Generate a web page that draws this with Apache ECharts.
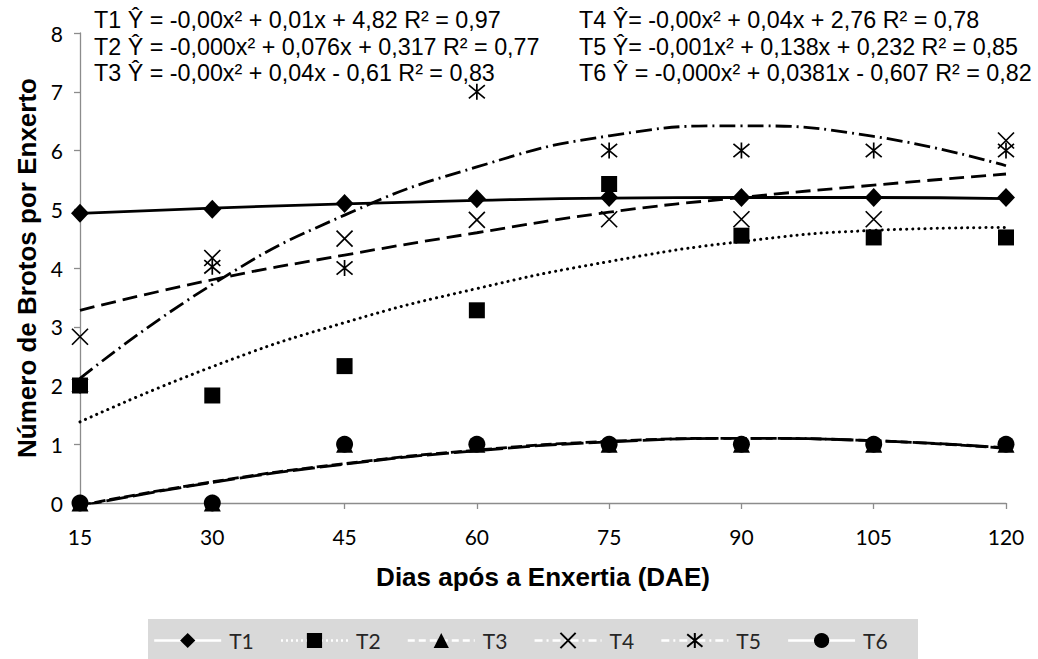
<!DOCTYPE html>
<html><head><meta charset="utf-8">
<script src="https://cdn.jsdelivr.net/npm/echarts@6/dist/echarts.min.js"></script>
<style>html,body{margin:0;padding:0;background:#fff}#c{width:1038px;height:659px}</style>
</head><body><div id="c"></div>
<script>
// ---- data ----
const days = [15, 30, 45, 60, 75, 90, 105, 120];
const seriesNames = ['T1', 'T2', 'T3', 'T4', 'T5', 'T6'];
// observed points
const t1 = [4.93, 5.0, 5.1, 5.18, 5.2, 5.2, 5.2, 5.2];
const t2 = [2.0, 1.83, 2.33, 3.28, 5.43, 4.55, 4.52, 4.52];
const t3 = [0, 0, 1, 1, 1, 1, 1, 1];
const t4 = [2.83, 4.17, 4.5, 4.82, 4.83, 4.83, 4.83, 6.17];
const t5 = [2.0, 4.02, 4.0, 7.0, 6.0, 6.0, 6.0, 6.0];
const t6 = [0, 0, 1, 1, 1, 1, 1, 1];
// trend curves (at each day)
const trend1 = [4.93, 5.02, 5.09, 5.15, 5.19, 5.2, 5.2, 5.18];
const trend2 = [1.38, 2.32, 3.07, 3.65, 4.11, 4.45, 4.64, 4.69];
const trend3 = [-0.04, 0.36, 0.67, 0.9, 1.05, 1.1, 1.06, 0.93];
const trend4 = [3.28, 3.8, 4.22, 4.6, 4.95, 5.2, 5.41, 5.6];
const trend5 = [2.12, 3.72, 4.9, 5.72, 6.25, 6.42, 6.24, 5.74];
const trend6 = [-0.05, 0.35, 0.66, 0.89, 1.04, 1.1, 1.06, 0.94];
const equationsLeft = [
  'T1 Ŷ = -0,00x² + 0,01x + 4,82 R² = 0,97',
  'T2 Ŷ = -0,000x² + 0,076x + 0,317 R² = 0,77',
  'T3 Ŷ = -0,00x² + 0,04x - 0,61 R² = 0,83'
];
const equationsRight = [
  'T4 Ŷ= -0,00x² + 0,04x + 2,76 R² = 0,78',
  'T5 Ŷ= -0,001x² + 0,138x + 0,232 R² = 0,85',
  'T6 Ŷ = -0,000x² + 0,0381x - 0,607 R² = 0,82'
];
const xAxisTitle = 'Dias após a Enxertia (DAE)';
const yAxisTitle = 'Número de Brotos por Enxerto';

// ---- styling ----
const points = [t1, t2, t3, t4, t5, t6];
const trends = [trend1, trend2, trend3, trend4, trend5, trend6];
const X_PATH = 'path://M0,0L10,10M10,0L0,10';
const STAR_PATH = 'path://M0,0L10,10M10,0L0,10M5,-1L5,11';
const markerDefs = [
  { symbol: 'diamond', size: [18, 19], stroke: false },
  { symbol: 'rect', size: 16, stroke: false },
  { symbol: 'triangle', size: 17, stroke: false },
  { symbol: X_PATH, size: 16, stroke: true },
  { symbol: STAR_PATH, size: 16, stroke: true },
  { symbol: 'circle', size: 17, stroke: false }
];
const trendTypes = ['solid', [0.1, 6], [11, 4], [15, 7], [16, 5, 2, 5], [22, 5]];
const trendCaps = ['butt', 'round', 'butt', 'butt', 'butt', 'butt'];
const trendWidths = [2.8, 3, 2.8, 2.8, 2.8, 2.8];
const legendTypes = ['solid', [2, 3], [7, 4], [8, 4, 2, 4], [8, 4, 2, 4], 'solid'];

const series = [];
trends.forEach((tr, i) => {
  series.push({
    type: 'line', name: seriesNames[i] + ' tendência',
    data: days.map((d, k) => [d, tr[k]]),
    smooth: 0.5, symbol: 'none', showSymbol: false,
    lineStyle: { color: '#000', width: trendWidths[i], type: trendTypes[i], cap: trendCaps[i] },
    z: 3, silent: true, animation: false, clip: true
  });
});
points.forEach((p, i) => {
  const m = markerDefs[i];
  series.push({
    type: 'line', name: seriesNames[i],
    data: days.map((d, k) => [d, p[k]]),
    symbol: m.symbol, symbolSize: m.size, showSymbol: true,
    lineStyle: { width: 0 },
    itemStyle: m.stroke ? { color: 'rgba(0,0,0,0)', borderColor: '#000', borderWidth: 1.7 } : { color: '#000' },
    z: 5 + i, silent: true, animation: false,
    emphasis: { disabled: true }
  });
});

const EQ_FONT = '23.3px "Liberation Sans", Arial, sans-serif';
const graphics = [
  { type: 'rect', shape: { x: 148, y: 619, width: 770, height: 40 }, style: { fill: '#d9d9d9' }, z: -1 }
];
equationsLeft.forEach((t, i) => graphics.push({
  type: 'text', x: 94, y: 20 + i * 26.5,
  style: { text: t, font: EQ_FONT, fill: '#000', verticalAlign: 'middle' }
}));
equationsRight.forEach((t, i) => graphics.push({
  type: 'text', x: 579, y: 20 + i * 26.5,
  style: { text: t, font: EQ_FONT, fill: '#000', verticalAlign: 'middle' }
}));

const chart = echarts.init(document.getElementById('c'), null, { renderer: 'svg' });
chart.setOption({
  animation: false,
  backgroundColor: '#fff',
  grid: { left: 80, right: 32, top: 33, bottom: 156, containLabel: false },
  xAxis: {
    type: 'value', min: 15, max: 120, interval: 15,
    name: xAxisTitle, nameLocation: 'middle', nameGap: 61,
    nameTextStyle: { fontFamily: '"Liberation Sans", Arial', fontWeight: 'bold', fontSize: 26, color: '#000' },
    axisLine: { show: true, lineStyle: { color: '#8c8c8c', width: 1.3 } },
    axisTick: { show: true, length: 6, lineStyle: { color: '#8c8c8c', width: 1.3 } },
    axisLabel: { fontFamily: 'Lato', fontSize: 21, color: '#000', margin: 23 },
    splitLine: { show: false }
  },
  yAxis: {
    type: 'value', min: 0, max: 8, interval: 1,
    name: yAxisTitle, nameLocation: 'middle', nameGap: 39, nameRotate: 90,
    nameTextStyle: { fontFamily: '"Liberation Sans", Arial', fontWeight: 'bold', fontSize: 26, color: '#000' },
    axisLine: { show: true, lineStyle: { color: '#8c8c8c', width: 1.3 } },
    axisTick: { show: true, length: 6, lineStyle: { color: '#8c8c8c', width: 1.3 } },
    axisLabel: { fontFamily: 'Lato', fontSize: 21, color: '#000', margin: 17 },
    splitLine: { show: false }
  },
  legend: {
    left: 153, top: 630, orient: 'horizontal',
    itemWidth: 67, itemHeight: 19, itemGap: 26, padding: 0,
    selectedMode: false,
    textStyle: { fontFamily: 'Lato', fontSize: 21, color: '#262626', padding: [0, 0, 0, 3] },
    data: seriesNames.map((n, i) => ({
      name: n,
      lineStyle: { color: '#fff', width: 2.4, type: legendTypes[i], opacity: 1 }
    }))
  },
  graphic: graphics,
  series: series
});
</script></body></html>
